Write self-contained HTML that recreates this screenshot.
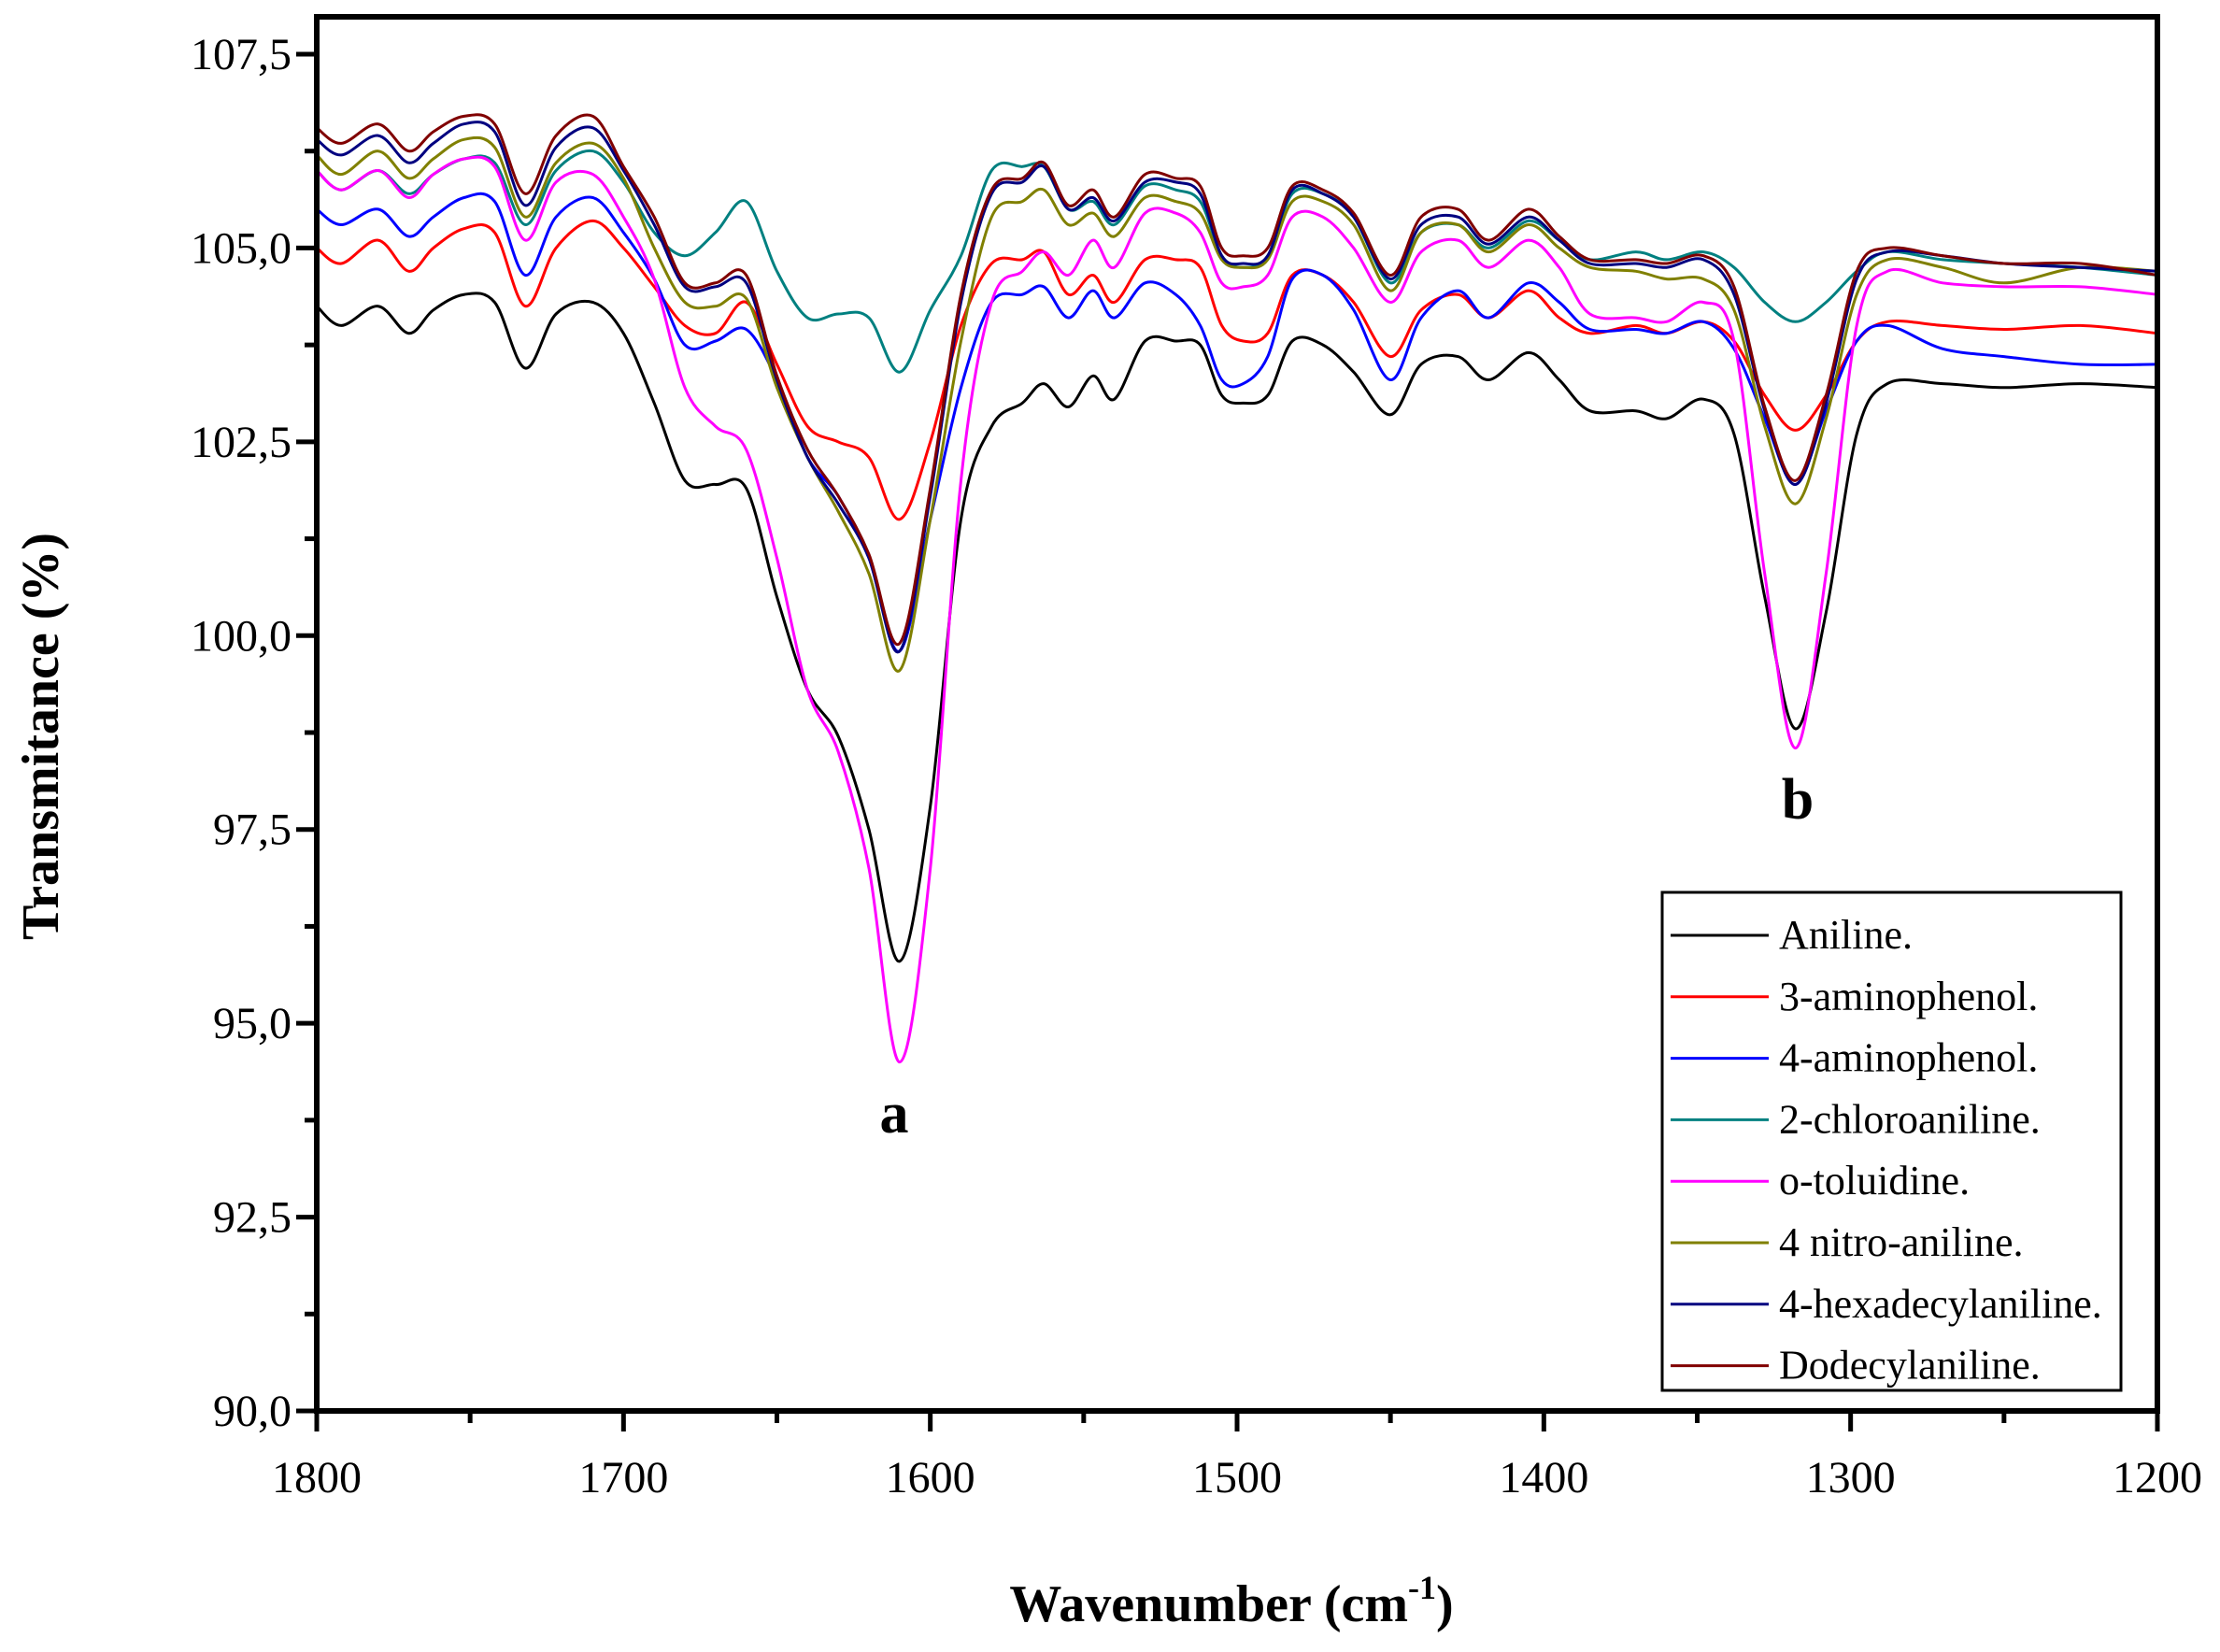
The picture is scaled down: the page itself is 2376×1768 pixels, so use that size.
<!DOCTYPE html>
<html><head><meta charset="utf-8"><style>
html,body{margin:0;padding:0;background:#fff}
svg{display:block}
text{font-family:"Liberation Serif",serif;fill:#000}
</style></head><body>
<svg id="chart" width="2376" height="1768" viewBox="0 0 2376 1768" xmlns="http://www.w3.org/2000/svg">
<g id="series-layer"></g>
<g id="axes-layer"></g>
<text x="1318" y="1735" text-anchor="middle" font-size="56" font-weight="bold">Wavenumber (cm<tspan font-size="36" dy="-24">-1</tspan><tspan dy="24">)</tspan></text>
<text transform="translate(62,788) rotate(-90)" text-anchor="middle" font-size="56" font-weight="bold">Transmitance (%)</text>
<text x="957" y="1212" text-anchor="middle" font-size="62" font-weight="bold">a</text>
<text x="1924" y="876" text-anchor="middle" font-size="62" font-weight="bold">b</text>
<g id="legend"></g>
</svg>
<script>
const wavenumbers=[1800,1792,1780,1770,1762,1752,1742,1732,1722,1710,1700,1690,1680,1670,1660,1650,1640,1630,1620,1610,1600,1590,1580,1570,1563,1555,1547,1540,1530,1520,1512,1505,1498,1490,1482,1472,1462,1450,1440,1428,1418,1405,1395,1385,1370,1360,1348,1338,1328,1318,1308,1298,1288,1270,1250,1225,1200];
const seriesNames=["Aniline.","3-aminophenol.","4-aminophenol.","2-chloroaniline.","o-toluidine.","4 nitro-aniline.","4-hexadecylaniline.","Dodecylaniline."];
const seriesColors=["#000000","#ff0000","#0000ff","#008080","#ff00ff","#808000","#000080","#800000"];
const aniline=[104.25,104.0,104.25,103.9,104.2,104.4,104.3,103.45,104.15,104.3,103.9,103.0,102.0,101.95,101.9,100.5,99.3,98.7,97.5,95.8,97.8,101.5,102.7,103.0,103.25,102.95,103.35,103.05,103.8,103.8,103.75,103.1,103.0,103.1,103.8,103.75,103.4,102.85,103.5,103.6,103.3,103.65,103.3,102.9,102.9,102.8,103.05,102.6,100.5,98.8,100.3,102.6,103.25,103.25,103.2,103.25,103.2];
const aminophenol3=[105.0,104.8,105.1,104.7,105.0,105.25,105.2,104.25,105.0,105.35,105.0,104.5,104.0,103.9,104.3,103.5,102.7,102.5,102.3,101.5,102.5,104.0,104.8,104.85,104.95,104.4,104.65,104.3,104.85,104.85,104.75,104.0,103.8,103.9,104.65,104.65,104.3,103.6,104.2,104.4,104.1,104.45,104.1,103.9,104.0,103.9,104.05,103.8,103.1,102.65,103.1,103.8,104.05,104.0,103.95,104.0,103.9];
const aminophenol4=[105.5,105.3,105.5,105.15,105.4,105.65,105.6,104.65,105.4,105.65,105.2,104.6,103.75,103.8,103.95,103.3,102.3,101.8,101.0,99.8,101.5,103.2,104.3,104.4,104.5,104.1,104.45,104.1,104.55,104.4,104.0,103.3,103.25,103.6,104.6,104.65,104.2,103.3,104.1,104.45,104.1,104.55,104.3,103.95,103.95,103.9,104.05,103.7,102.8,101.95,102.9,103.8,104.0,103.7,103.6,103.5,103.5];
const chloroaniline=[106.0,105.75,106.0,105.7,105.95,106.15,106.1,105.3,106.0,106.25,105.85,105.2,104.9,105.2,105.6,104.7,104.1,104.15,104.1,103.4,104.2,104.9,106.0,106.05,106.05,105.5,105.6,105.3,105.8,105.75,105.6,104.9,104.75,104.9,105.7,105.7,105.4,104.55,105.2,105.3,105.0,105.35,105.1,104.85,104.95,104.85,104.95,104.75,104.3,104.05,104.3,104.7,104.95,104.85,104.8,104.75,104.65];
const toluidine=[106.0,105.75,106.0,105.65,105.95,106.15,106.05,105.1,105.85,105.95,105.4,104.6,103.2,102.7,102.4,101.0,99.3,98.5,97.0,94.5,97.0,102.0,104.3,104.7,104.95,104.65,105.1,104.75,105.45,105.45,105.2,104.55,104.5,104.65,105.4,105.4,105.0,104.3,104.95,105.1,104.75,105.1,104.75,104.15,104.1,104.05,104.3,103.8,100.8,98.55,100.8,104.0,104.7,104.55,104.5,104.5,104.4];
const nitroaniline=[106.2,105.95,106.25,105.9,106.15,106.4,106.3,105.4,106.1,106.35,105.9,105.0,104.3,104.25,104.35,103.2,102.3,101.6,100.8,99.55,101.5,103.8,105.4,105.6,105.75,105.3,105.45,105.15,105.65,105.6,105.45,104.85,104.75,104.85,105.6,105.6,105.3,104.45,105.2,105.3,104.95,105.3,105.0,104.75,104.7,104.6,104.6,104.2,102.7,101.7,102.8,104.4,104.85,104.75,104.55,104.75,104.7];
const hexadecylaniline=[106.4,106.2,106.45,106.1,106.35,106.6,106.5,105.55,106.3,106.55,106.0,105.3,104.5,104.5,104.55,103.3,102.3,101.7,101.0,99.8,101.8,104.3,105.7,105.85,106.05,105.5,105.65,105.35,105.85,105.85,105.7,104.9,104.8,104.9,105.75,105.7,105.4,104.6,105.3,105.4,105.05,105.4,105.1,104.8,104.8,104.75,104.85,104.4,102.9,101.95,103.0,104.6,104.95,104.9,104.8,104.75,104.7];
const dodecylaniline=[106.55,106.35,106.6,106.25,106.5,106.7,106.6,105.7,106.45,106.7,106.05,105.4,104.55,104.55,104.65,103.35,102.4,101.8,101.05,99.9,101.9,104.4,105.75,105.9,106.1,105.55,105.75,105.4,105.95,105.9,105.8,105.0,104.9,105.0,105.8,105.75,105.45,104.65,105.4,105.5,105.1,105.5,105.15,104.85,104.85,104.8,104.9,104.5,102.95,102.0,103.1,104.7,105.0,104.9,104.8,104.8,104.65];
const xTickLabels=["1800","1700","1600","1500","1400","1300","1200"];
const xTickValues=[1800,1700,1600,1500,1400,1300,1200];
const yTickLabels=["90,0","92,5","95,0","97,5","100,0","102,5","105,0","107,5"];
const yTickValues=[90,92.5,95,97.5,100,102.5,105,107.5];

const allSeries=[aniline,aminophenol3,aminophenol4,chloroaniline,toluidine,nitroaniline,hexadecylaniline,dodecylaniline];
const L=339,R=2309,T=18,B=1510;
const X0=1800,X1=1200,Y0=90,Y1=107.5;
const Y1px=58;
function xs(v){return L+(v-X0)/(X1-X0)*(R-L);}
function ys(v){return B-(v-Y0)/(Y1-Y0)*(B-Y1px);}
const NS="http://www.w3.org/2000/svg";
function mk(tag,attrs,parent){const e=document.createElementNS(NS,tag);for(const k in attrs)e.setAttribute(k,attrs[k]);parent.appendChild(e);return e;}
function smoothPath(pts){
  let d="M"+pts[0][0].toFixed(1)+","+pts[0][1].toFixed(1);
  for(let i=0;i<pts.length-1;i++){
    const p0=pts[i-1]||pts[i],p1=pts[i],p2=pts[i+1],p3=pts[i+2]||p2;
    const c1=[p1[0]+(p2[0]-p0[0])/6,p1[1]+(p2[1]-p0[1])/6];
    const c2=[p2[0]-(p3[0]-p1[0])/6,p2[1]-(p3[1]-p1[1])/6];
    d+=" C"+c1[0].toFixed(1)+","+c1[1].toFixed(1)+" "+c2[0].toFixed(1)+","+c2[1].toFixed(1)+" "+p2[0].toFixed(1)+","+p2[1].toFixed(1);
  }
  return d;
}
const sl=document.getElementById("series-layer");
allSeries.forEach((s,i)=>{
  const pts=s.map((v,j)=>[xs(wavenumbers[j]),ys(v)]);
  const p=mk("path",{d:smoothPath(pts),fill:"none",stroke:seriesColors[i],"stroke-width":"3","stroke-linejoin":"round"},sl);
  
  
});
const ax=document.getElementById("axes-layer");
const frame=mk("rect",{x:L,y:T,width:R-L,height:B-T,fill:"none",stroke:"#000","stroke-width":"6"},ax);


xTickValues.forEach((v,i)=>{
  const x=xs(v);
  const t=mk("line",{x1:x,y1:B,x2:x,y2:B+22,stroke:"#000","stroke-width":"5"},ax);
  
  
  const lb=mk("text",{x:x,y:1597,"text-anchor":"middle","font-size":"48"},ax);
  lb.textContent=xTickLabels[i];
  
  
  if(i<xTickValues.length-1){
    const xm=xs(v-50);
    const m=mk("line",{x1:xm,y1:B,x2:xm,y2:B+13,stroke:"#000","stroke-width":"5"},ax);
    
    
  }
});
yTickValues.forEach((v,i)=>{
  const y=ys(v);
  const t=mk("line",{x1:L-22,y1:y,x2:L,y2:y,stroke:"#000","stroke-width":"5"},ax);
  
  
  const lb=mk("text",{x:312,y:y+16,"text-anchor":"end","font-size":"48"},ax);
  lb.textContent=yTickLabels[i];
  
  
  if(i<yTickValues.length-1){
    const ym=ys(v+1.25);
    const m=mk("line",{x1:L-13,y1:ym,x2:L,y2:ym,stroke:"#000","stroke-width":"5"},ax);
    
    
  }
});
const lg=document.getElementById("legend");
const box=mk("rect",{x:1779,y:955,width:491,height:533,fill:"#fff",stroke:"#000","stroke-width":"3"},lg);


seriesNames.forEach((n,i)=>{
  const y=1001+i*65.8;
  const ln=mk("line",{x1:1788,y1:y,x2:1893,y2:y,stroke:seriesColors[i],"stroke-width":"3"},lg);
  
  
  const tx=mk("text",{x:1904,y:y+14,"font-size":"44"},lg);
  tx.textContent=n;
  
  
});
</script>
</body></html>
